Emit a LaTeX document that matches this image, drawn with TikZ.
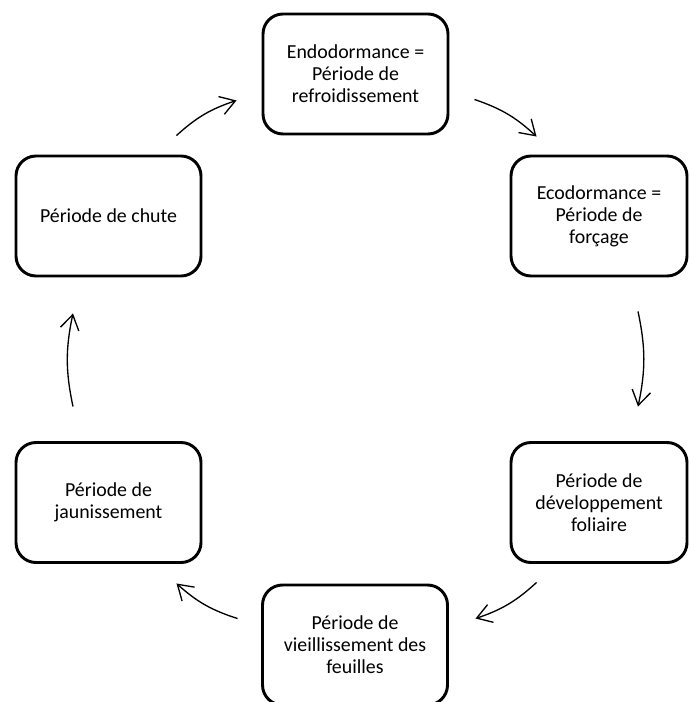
\documentclass[tikz,border=0pt]{standalone}
\usepackage{fontspec}
\setmainfont{Carlito}
\usepackage{tikz}
\usetikzlibrary{arrows.meta,positioning,calc}

\tikzset{
    phase/.style={draw, line width=2.2pt, rounded corners=15pt, minimum width=138.75pt,
        minimum height=90pt, inner sep=0pt, align=center,
        font=\fontsize{14.9}{16.6}\selectfont},
    cycarrow/.style={-{Straight Barb[length=11pt,width=14pt]}, line width=1pt, bend left=12}
}

\begin{document}
\begin{tikzpicture}[x=0.75pt, y=-0.75pt]
    \useasboundingbox (0,0) rectangle (689,702);

    % Phases of the cycle
    \node[phase] (endo) at (355.5,74) {Endodormance =\\Période de\\refroidissement};
    \node[phase, minimum width=132pt] (eco) at (599,216) {Ecodormance =\\Période de\\forçage};
    \node[phase, minimum width=132pt] (devel) at (599,502.5) {Période de\\développement\\foliaire};
    \node[phase] (vieil) at (355,645) {Période de\\vieillissement des\\feuilles};
    \node[phase] (jaune) at (108.5,502.5) {Période de\\jaunissement};
    \node[phase] (chute) at (108.5,216) {Période de chute};

    % Arrow ends
    \coordinate (s1) at ($(chute.north east)+(-26,-19)$);
    \coordinate (e1) at ($(endo.south west)+(-25,-35)$);
    \coordinate (s2) at ($(endo.south east)+(25,-36)$);
    \coordinate (e2) at ($(eco.north west)+(27,-18)$);
    \coordinate (s3) at ($(eco.south)+(39,34)$);
    \coordinate (e3) at ($(devel.north)+(39,-34.5)$);
    \coordinate (s4) at ($(devel.south west)+(27,18.5)$);
    \coordinate (e4) at ($(vieil.north east)+(26.5,35)$);
    \coordinate (s5) at ($(vieil.north west)+(-23.5,35)$);
    \coordinate (e5) at ($(jaune.south east)+(-26,19.5)$);
    \coordinate (s6) at ($(jaune.north)+(-35.5,-34.5)$);
    \coordinate (e6) at ($(chute.south)+(-35.5,36)$);

    % Cycle arrows
    \foreach \i in {1,...,6} {
        \draw[cycarrow] (s\i) to (e\i);
    }
\end{tikzpicture}
\end{document}
